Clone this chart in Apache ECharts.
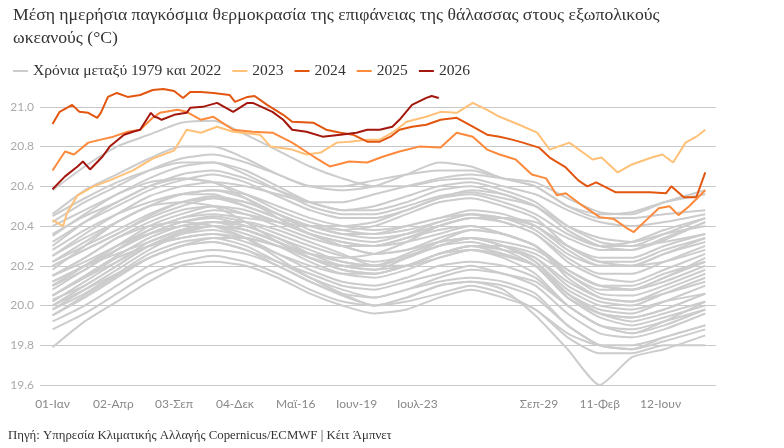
<!DOCTYPE html>
<html>
<head>
<meta charset="utf-8">
<script src="https://cdn.jsdelivr.net/npm/echarts@6.0.0/dist/echarts.min.js"></script>
<style>
  html, body { margin: 0; padding: 0; background: #fff; }
  #chart { width: 784px; height: 448px; }
</style>
</head>
<body>
<div id="chart"></div>
<script>
// x axis tick labels, one every 34 days (the 8th one is blank in the original)
var tickDays = [0, 34, 68, 102, 136, 170, 204, 238, 272, 306, 340];
var tickLabels = ['01-Ιαν', '02-Απρ', '03-Σεπ', '04-Δεκ', 'Μαϊ-16', 'Ιουν-19', 'Ιουλ-23', '', 'Σεπ-29', '11-Φεβ', '12-Ιουν'];
var yTicks = [19.6, 19.8, 20.0, 20.2, 20.4, 20.6, 20.8, 21.0];

// grey years 1979-2022, sampled every 18 days
var greyDays = [0, 18, 36, 54, 72, 90, 108, 126, 144, 162, 180, 198, 216, 234, 252, 270, 288, 306, 324, 342, 365];
var greyYears = [
    [20.58, 20.70, 20.80, 20.86, 20.92, 20.93, 20.86, 20.78, 20.70, 20.64, 20.60, 20.60, 20.63, 20.64, 20.60, 20.56, 20.48, 20.42, 20.40, 20.42, 20.46],
    [20.46, 20.58, 20.66, 20.74, 20.80, 20.80, 20.74, 20.66, 20.60, 20.58, 20.60, 20.66, 20.72, 20.70, 20.64, 20.60, 20.50, 20.44, 20.44, 20.46, 20.48],
    [20.42, 20.52, 20.60, 20.68, 20.74, 20.76, 20.72, 20.66, 20.60, 20.60, 20.63, 20.66, 20.68, 20.68, 20.64, 20.60, 20.50, 20.46, 20.47, 20.52, 20.56],
    [20.45, 20.54, 20.62, 20.68, 20.72, 20.72, 20.66, 20.58, 20.50, 20.46, 20.46, 20.50, 20.55, 20.57, 20.54, 20.50, 20.40, 20.34, 20.32, 20.36, 20.40],
    [20.40, 20.48, 20.56, 20.64, 20.70, 20.72, 20.68, 20.60, 20.52, 20.48, 20.48, 20.52, 20.58, 20.60, 20.56, 20.50, 20.38, 20.30, 20.28, 20.33, 20.42],
    [20.32, 20.42, 20.50, 20.58, 20.63, 20.66, 20.62, 20.55, 20.48, 20.44, 20.44, 20.48, 20.54, 20.56, 20.52, 20.46, 20.36, 20.30, 20.32, 20.38, 20.44],
    [20.36, 20.45, 20.52, 20.60, 20.66, 20.68, 20.64, 20.58, 20.52, 20.48, 20.50, 20.55, 20.60, 20.62, 20.58, 20.52, 20.40, 20.32, 20.30, 20.32, 20.36],
    [20.25, 20.36, 20.46, 20.55, 20.60, 20.62, 20.60, 20.56, 20.52, 20.52, 20.56, 20.60, 20.64, 20.66, 20.64, 20.62, 20.54, 20.47, 20.46, 20.52, 20.58],
    [20.30, 20.42, 20.52, 20.60, 20.64, 20.62, 20.54, 20.44, 20.36, 20.30, 20.26, 20.28, 20.32, 20.34, 20.30, 20.22, 20.08, 20.00, 19.98, 20.02, 20.06],
    [20.10, 20.18, 20.28, 20.38, 20.44, 20.46, 20.44, 20.42, 20.40, 20.40, 20.42, 20.48, 20.54, 20.58, 20.56, 20.50, 20.38, 20.30, 20.30, 20.36, 20.44],
    [20.22, 20.32, 20.42, 20.50, 20.56, 20.58, 20.54, 20.46, 20.38, 20.34, 20.32, 20.36, 20.42, 20.46, 20.42, 20.36, 20.22, 20.14, 20.12, 20.18, 20.26],
    [20.20, 20.28, 20.36, 20.45, 20.52, 20.55, 20.52, 20.46, 20.40, 20.36, 20.36, 20.40, 20.44, 20.48, 20.46, 20.40, 20.28, 20.20, 20.20, 20.22, 20.28],
    [20.18, 20.30, 20.42, 20.50, 20.52, 20.50, 20.42, 20.32, 20.24, 20.20, 20.18, 20.24, 20.32, 20.38, 20.36, 20.30, 20.14, 20.04, 20.02, 20.08, 20.16],
    [20.15, 20.24, 20.34, 20.42, 20.48, 20.50, 20.46, 20.40, 20.34, 20.30, 20.30, 20.34, 20.40, 20.44, 20.44, 20.40, 20.30, 20.22, 20.20, 20.26, 20.34],
    [20.12, 20.20, 20.30, 20.40, 20.46, 20.50, 20.48, 20.42, 20.36, 20.32, 20.30, 20.32, 20.36, 20.40, 20.36, 20.30, 20.16, 20.06, 20.05, 20.10, 20.18],
    [20.10, 20.20, 20.28, 20.36, 20.42, 20.45, 20.42, 20.36, 20.30, 20.25, 20.22, 20.25, 20.30, 20.34, 20.32, 20.28, 20.18, 20.10, 20.08, 20.14, 20.22],
    [19.95, 20.04, 20.14, 20.24, 20.30, 20.34, 20.34, 20.30, 20.26, 20.24, 20.26, 20.32, 20.40, 20.44, 20.42, 20.36, 20.24, 20.16, 20.16, 20.22, 20.30],
    [20.05, 20.15, 20.25, 20.34, 20.40, 20.42, 20.38, 20.32, 20.26, 20.22, 20.20, 20.24, 20.30, 20.34, 20.30, 20.24, 20.10, 20.02, 20.00, 20.06, 20.14],
    [20.02, 20.12, 20.22, 20.32, 20.38, 20.40, 20.36, 20.30, 20.22, 20.16, 20.14, 20.18, 20.24, 20.28, 20.25, 20.20, 20.06, 19.96, 19.94, 19.98, 20.06],
    [20.15, 20.24, 20.34, 20.40, 20.42, 20.40, 20.34, 20.24, 20.14, 20.06, 20.00, 20.02, 20.06, 20.10, 20.06, 19.98, 19.86, 19.80, 19.80, 19.84, 19.90],
    [19.98, 20.06, 20.16, 20.26, 20.32, 20.34, 20.30, 20.22, 20.14, 20.08, 20.04, 20.08, 20.14, 20.18, 20.16, 20.10, 19.96, 19.86, 19.84, 19.88, 19.96],
    [19.95, 20.05, 20.15, 20.24, 20.30, 20.32, 20.28, 20.22, 20.16, 20.10, 20.08, 20.12, 20.16, 20.20, 20.16, 20.12, 20.00, 19.90, 19.86, 19.90, 19.98],
    [20.05, 20.14, 20.24, 20.30, 20.34, 20.36, 20.34, 20.30, 20.24, 20.20, 20.20, 20.26, 20.32, 20.34, 20.30, 20.22, 20.06, 19.96, 19.92, 19.96, 20.02],
    [19.92, 20.00, 20.10, 20.20, 20.26, 20.28, 20.26, 20.20, 20.12, 20.06, 20.04, 20.08, 20.12, 20.14, 20.12, 20.06, 19.90, 19.80, 19.78, 19.82, 19.88],
    [20.00, 20.08, 20.16, 20.24, 20.30, 20.32, 20.28, 20.20, 20.12, 20.05, 20.00, 20.04, 20.10, 20.12, 20.08, 19.95, 19.78, 19.60, 19.74, 19.78, 19.85],
    [19.79, 19.92, 20.02, 20.12, 20.20, 20.22, 20.20, 20.14, 20.06, 20.00, 19.96, 19.98, 20.04, 20.08, 20.04, 19.98, 19.84, 19.76, 19.76, 19.80, 19.80],
    [19.88, 19.96, 20.06, 20.16, 20.22, 20.25, 20.22, 20.16, 20.08, 20.02, 20.00, 20.04, 20.10, 20.12, 20.10, 20.04, 19.90, 19.80, 19.78, 19.84, 19.90],
    [20.08, 20.18, 20.28, 20.36, 20.42, 20.44, 20.40, 20.34, 20.26, 20.20, 20.18, 20.20, 20.26, 20.30, 20.26, 20.20, 20.06, 19.98, 19.96, 20.02, 20.10],
    [20.12, 20.20, 20.26, 20.32, 20.38, 20.42, 20.42, 20.38, 20.32, 20.26, 20.20, 20.20, 20.24, 20.28, 20.26, 20.20, 20.04, 19.96, 19.94, 19.98, 20.06],
    [20.15, 20.22, 20.30, 20.38, 20.44, 20.48, 20.46, 20.42, 20.36, 20.32, 20.30, 20.34, 20.38, 20.40, 20.36, 20.30, 20.18, 20.10, 20.08, 20.12, 20.20],
    [20.20, 20.28, 20.36, 20.44, 20.50, 20.54, 20.52, 20.46, 20.40, 20.38, 20.40, 20.46, 20.52, 20.54, 20.50, 20.44, 20.30, 20.22, 20.22, 20.28, 20.34],
    [20.25, 20.34, 20.42, 20.50, 20.56, 20.58, 20.56, 20.50, 20.44, 20.40, 20.38, 20.40, 20.44, 20.46, 20.44, 20.40, 20.30, 20.24, 20.24, 20.30, 20.36],
    [20.00, 20.10, 20.20, 20.30, 20.36, 20.38, 20.34, 20.26, 20.18, 20.12, 20.10, 20.14, 20.20, 20.22, 20.20, 20.14, 20.00, 19.90, 19.88, 19.92, 19.98],
    [20.03, 20.10, 20.20, 20.30, 20.37, 20.40, 20.38, 20.32, 20.24, 20.18, 20.16, 20.20, 20.26, 20.30, 20.28, 20.24, 20.12, 20.04, 20.02, 20.06, 20.12],
    [20.28, 20.38, 20.46, 20.52, 20.56, 20.56, 20.50, 20.44, 20.40, 20.36, 20.34, 20.36, 20.40, 20.44, 20.44, 20.42, 20.34, 20.28, 20.28, 20.34, 20.42],
    [20.10, 20.20, 20.30, 20.36, 20.40, 20.42, 20.40, 20.34, 20.28, 20.22, 20.20, 20.24, 20.30, 20.32, 20.28, 20.20, 20.04, 19.94, 19.90, 19.94, 20.00],
    [19.98, 20.08, 20.18, 20.28, 20.36, 20.40, 20.38, 20.32, 20.24, 20.18, 20.16, 20.20, 20.26, 20.28, 20.24, 20.16, 20.00, 19.90, 19.86, 19.92, 20.02],
    [20.35, 20.46, 20.56, 20.62, 20.64, 20.62, 20.56, 20.48, 20.42, 20.38, 20.36, 20.38, 20.42, 20.46, 20.44, 20.38, 20.26, 20.20, 20.20, 20.26, 20.32],
    [20.05, 20.14, 20.22, 20.30, 20.34, 20.36, 20.32, 20.26, 20.20, 20.16, 20.16, 20.20, 20.26, 20.30, 20.30, 20.26, 20.16, 20.08, 20.08, 20.14, 20.24],
    [20.22, 20.30, 20.38, 20.46, 20.52, 20.54, 20.50, 20.44, 20.36, 20.30, 20.26, 20.28, 20.34, 20.38, 20.36, 20.30, 20.18, 20.10, 20.10, 20.16, 20.22]
];

var days2023 = [0, 6, 8, 14, 23, 32, 45, 56, 68, 75, 83, 92, 101, 116, 122, 134, 142, 150, 159, 166, 176, 183, 190, 198, 209, 217, 226, 235, 243, 250, 261, 271, 278, 289, 302, 307, 316, 324, 335, 341, 347, 354, 360, 365];
var vals2023 = [20.43, 20.40, 20.465, 20.555, 20.60, 20.63, 20.68, 20.74, 20.78, 20.885, 20.87, 20.90, 20.875, 20.86, 20.80, 20.785, 20.76, 20.77, 20.82, 20.825, 20.835, 20.835, 20.87, 20.925, 20.95, 20.975, 20.97, 21.02, 20.985, 20.95, 20.91, 20.87, 20.785, 20.82, 20.735, 20.745, 20.67, 20.71, 20.745, 20.76, 20.72, 20.82, 20.85, 20.885];

var days2024 = [0, 4, 11, 15, 20, 25, 27, 31, 36, 42, 49, 56, 62, 68, 73, 77, 83, 90, 99, 102, 109, 113, 120, 129, 134, 146, 153, 161, 168, 176, 183, 189, 194, 201, 209, 217, 226, 235, 243, 250, 257, 263, 272, 278, 287, 294, 299, 304, 315, 324, 334, 343, 346, 353, 360, 365];
var vals2024 = [20.914, 20.975, 21.01, 20.975, 20.97, 20.945, 20.97, 21.05, 21.07, 21.05, 21.06, 21.085, 21.09, 21.08, 21.045, 21.075, 21.075, 21.07, 21.06, 21.025, 21.05, 21.055, 21.01, 20.96, 20.925, 20.92, 20.885, 20.87, 20.86, 20.825, 20.825, 20.85, 20.885, 20.90, 20.91, 20.935, 20.945, 20.90, 20.86, 20.85, 20.835, 20.82, 20.795, 20.745, 20.695, 20.63, 20.60, 20.62, 20.57, 20.57, 20.57, 20.565, 20.60, 20.545, 20.545, 20.67];

var days2025 = [0, 7, 12, 20, 27, 34, 42, 49, 56, 60, 70, 75, 83, 90, 101, 112, 123, 134, 146, 155, 166, 176, 185, 194, 205, 217, 226, 235, 243, 250, 259, 268, 276, 282, 287, 296, 306, 314, 321, 325, 332, 339, 345, 350, 356, 365];
var vals2025 = [20.68, 20.775, 20.76, 20.82, 20.835, 20.85, 20.875, 20.885, 20.945, 20.97, 20.985, 20.975, 20.935, 20.95, 20.885, 20.875, 20.87, 20.82, 20.75, 20.70, 20.725, 20.72, 20.75, 20.775, 20.80, 20.795, 20.87, 20.85, 20.785, 20.76, 20.735, 20.66, 20.64, 20.555, 20.565, 20.505, 20.445, 20.435, 20.39, 20.37, 20.43, 20.49, 20.50, 20.455, 20.50, 20.58];

var days2026 = [0, 7, 14, 17, 21, 28, 32, 40, 45, 49, 55, 57, 59, 61, 68, 75, 77, 84, 92, 101, 109, 112, 123, 129, 134, 142, 151, 161, 170, 176, 183, 190, 194, 201, 209, 212, 216];
var vals2026 = [20.585, 20.65, 20.70, 20.725, 20.685, 20.75, 20.80, 20.86, 20.875, 20.885, 20.97, 20.95, 20.945, 20.935, 20.96, 20.97, 20.995, 21.00, 21.02, 20.975, 21.02, 21.02, 20.975, 20.935, 20.885, 20.875, 20.85, 20.86, 20.87, 20.885, 20.885, 20.90, 20.935, 21.01, 21.045, 21.055, 21.045];

var greyName = 'Χρόνια μεταξύ 1979 και 2022';
var textFont = '"Liberation Serif", "DejaVu Serif", serif';
var numFont = 'Lato, "Noto Sans", sans-serif';

function zip(d, v) {
    return d.map(function (x, i) { return [x, v[i]]; });
}

var series = [];
greyYears.forEach(function (vals) {
    series.push({
        name: greyName,
        type: 'line',
        data: zip(greyDays, vals),
        showSymbol: false,
        smooth: 0.2,
        silent: true,
        z: 1,
        lineStyle: { color: '#cccccc', width: 2 },
        itemStyle: { color: '#cccccc' }
    });
});
[
    ['2023', days2023, vals2023, '#ffc078'],
    ['2024', days2024, vals2024, '#e2560f'],
    ['2025', days2025, vals2025, '#fd8a3c'],
    ['2026', days2026, vals2026, '#a3170d']
].forEach(function (s, i) {
    series.push({
        name: s[0],
        type: 'line',
        data: zip(s[1], s[2]),
        showSymbol: false,
        silent: true,
        z: 3 + i,
        lineStyle: { color: s[3], width: 2 },
        itemStyle: { color: s[3] }
    });
});

var myChart = echarts.init(document.getElementById('chart'));
var option = {
    animation: false,
    backgroundColor: '#ffffff',
    title: {
        text: 'Μέση ημερήσια παγκόσμια θερμοκρασία της επιφάνειας της θάλασσας στους εξωπολικούς\nωκεανούς (°C)',
        left: 8,
        top: -1,
        textStyle: {
            fontFamily: textFont,
            fontSize: 17.7,
            fontWeight: 'normal',
            color: '#333333',
            lineHeight: 23
        }
    },
    legend: {
        left: 8,
        top: 58,
        icon: 'rect',
        itemWidth: 15,
        itemHeight: 2,
        itemGap: 11,
        data: [greyName, '2023', '2024', '2025', '2026'],
        textStyle: { fontFamily: textFont, fontSize: 15.6, color: '#333333' }
    },
    grid: { left: 40, right: 68, top: 87, bottom: 63 },
    xAxis: {
        type: 'value',
        min: -7,
        max: 371,
        axisLine: { show: false },
        axisTick: { show: false },
        splitLine: { show: false },
        axisLabel: {
            customValues: tickDays,
            margin: 13,
            color: '#888888',
            fontFamily: numFont,
            fontSize: 12,
            formatter: function (v) {
                var i = tickDays.indexOf(v);
                return i < 0 ? '' : tickLabels[i];
            }
        }
    },
    yAxis: {
        type: 'value',
        min: 19.6,
        max: 21.1,
        interval: 0.2,
        axisLine: { show: false },
        axisTick: { show: false },
        splitLine: { showMaxLine: false, lineStyle: { color: '#c8c8c8', width: 1 } },
        axisLabel: {
            showMaxLabel: false,
            margin: 6,
            color: '#aaaaaa',
            fontFamily: numFont,
            fontSize: 12,
            formatter: function (v) {
                return yTicks.indexOf(Math.round(v * 10) / 10) < 0 ? '' : v.toFixed(1);
            }
        }
    },
    graphic: [{
        type: 'text',
        left: 8,
        top: 429,
        style: {
            text: 'Πηγή: Υπηρεσία Κλιματικής Αλλαγής Copernicus/ECMWF | Κέιτ Άμπνετ',
            fontFamily: textFont,
            fontSize: 12.8,
            fill: '#333333'
        }
    }],
    series: series
};
myChart.setOption(option);
</script>
</body>
</html>
